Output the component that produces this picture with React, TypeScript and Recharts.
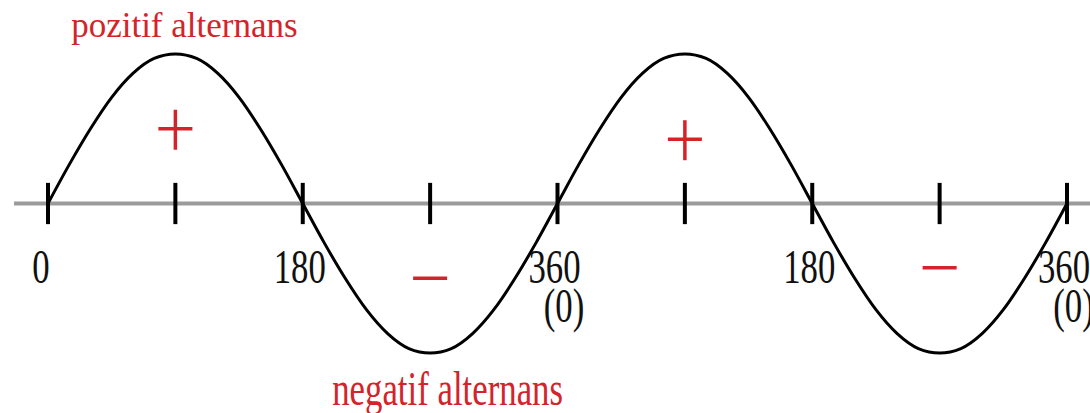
import { LineChart, Line, XAxis, YAxis, ReferenceLine, ReferenceDot } from "recharts";

// phase angle (degrees) over two full periods
const degrees = [
  0, 15, 30, 45, 60, 75, 90, 105, 120, 135, 150, 165, 180, 195, 210, 225, 240, 255, 270,
  285, 300, 315, 330, 345, 360, 375, 390, 405, 420, 435, 450, 465, 480, 495, 510, 525,
  540, 555, 570, 585, 600, 615, 630, 645, 660, 675, 690, 705, 720,
];

// instantaneous value, normalised to the peak
const voltage = [
  0, 0.26, 0.5, 0.71, 0.87, 0.97, 1, 0.97, 0.87, 0.71, 0.5, 0.26, 0, -0.26, -0.5, -0.71,
  -0.87, -0.97, -1, -0.97, -0.87, -0.71, -0.5, -0.26, 0, 0.26, 0.5, 0.71, 0.87, 0.97, 1,
  0.97, 0.87, 0.71, 0.5, 0.26, 0, -0.26, -0.5, -0.71, -0.87, -0.97, -1, -0.97, -0.87,
  -0.71, -0.5, -0.26, 0,
];

const tickMarks = [0, 90, 180, 270, 360, 450, 540, 630, 720];

const tickLabelAt = [0, 180, 360, 540, 720];
const tickLabels = ["0", "180", "360", "180", "360"];
const wrapLabelAt = [360, 720];
const wrapLabels = ["(0)", "(0)"];

// half-wave signs: angle, level, sign
const signs: [number, number, string][] = [
  [90, 0.5, "+"],
  [270, -0.5, "-"],
  [450, 0.43, "+"],
  [630, -0.43, "-"],
];

const titles = ["pozitif alternans", "negatif alternans"];

const chartData = degrees.map((deg, i) => ({ deg, v: voltage[i] }));

const RED = "#d3242b";
const SERIF = "'Liberation Serif', 'Times New Roman', serif";

function SerifText(props: any) {
  const { cx, cy, dx = 0, dy = 0, size, sx = 1, fill = "#111", text } = props;
  return (
    <text
      transform={`translate(${cx + dx},${cy + dy}) scale(${sx},1)`}
      textAnchor="middle"
      fontFamily={SERIF}
      fontSize={size}
      fill={fill}
    >
      {text}
    </text>
  );
}

function Sign(props: any) {
  const { cx, cy, kind } = props;
  return (
    <g stroke={RED} strokeWidth={3.5}>
      <line x1={cx - 17} y1={cy} x2={cx + 17} y2={cy} />
      {kind === "+" && <line x1={cx} y1={cy - 19} x2={cx} y2={cy + 21} />}
    </g>
  );
}

export default function App() {
  return (
    <div style={{ position: "absolute", left: 0, top: 0, width: 1090, height: 413, background: "#fff" }}>
      <LineChart
        width={1090}
        height={413}
        data={chartData}
        margin={{ top: 54, right: 23, bottom: 60, left: 48 }}
      >
        <XAxis type="number" dataKey="deg" domain={[0, 720]} hide />
        <YAxis type="number" domain={[-1, 1]} hide />

        <ReferenceLine
          segment={[{ x: -24, y: 0 }, { x: 740, y: 0 }]}
          stroke="#9b9b9b"
          strokeWidth={4}
          ifOverflow="visible"
        />
        {tickMarks.map((t) => (
          <ReferenceLine
            key={`tick-${t}`}
            segment={[{ x: t, y: 0.138 }, { x: t, y: -0.138 }]}
            stroke="#000"
            strokeWidth={4}
            ifOverflow="visible"
          />
        ))}

        <Line
          type="monotone"
          dataKey="v"
          stroke="#000"
          strokeWidth={3}
          dot={false}
          activeDot={false}
          isAnimationActive={false}
        />

        {tickLabelAt.map((t, i) => (
          <ReferenceDot
            key={`lbl-${t}`}
            x={t}
            y={0}
            r={0}
            ifOverflow="visible"
            shape={(p: any) => (
              <SerifText cx={p.cx} cy={p.cy} dx={i === 0 ? -7 : -3} dy={79.5} size={49} sx={0.71} text={tickLabels[i]} />
            )}
          />
        ))}
        {wrapLabelAt.map((t, i) => (
          <ReferenceDot
            key={`wrap-${t}`}
            x={t}
            y={0}
            r={0}
            ifOverflow="visible"
            shape={(p: any) => (
              <SerifText cx={p.cx} cy={p.cy} dx={6.5} dy={118.5} size={49} sx={0.71} text={wrapLabels[i]} />
            )}
          />
        ))}

        {signs.map(([deg, level, kind]) => (
          <ReferenceDot
            key={`sign-${deg}`}
            x={deg}
            y={level}
            r={0}
            ifOverflow="visible"
            shape={(p: any) => <Sign cx={p.cx} cy={p.cy} kind={kind} />}
          />
        ))}

        <ReferenceDot
          x={90}
          y={1}
          r={0}
          ifOverflow="visible"
          shape={(p: any) => (
            <SerifText cx={p.cx} cy={p.cy} dx={9} dy={-17} size={35} fill={RED} text={titles[0]} />
          )}
        />
        <ReferenceDot
          x={270}
          y={-1}
          r={0}
          ifOverflow="visible"
          shape={(p: any) => (
            <SerifText cx={p.cx} cy={p.cy} dx={17.5} dy={52} size={48} sx={0.725} fill={RED} text={titles[1]} />
          )}
        />
      </LineChart>
    </div>
  );
}
